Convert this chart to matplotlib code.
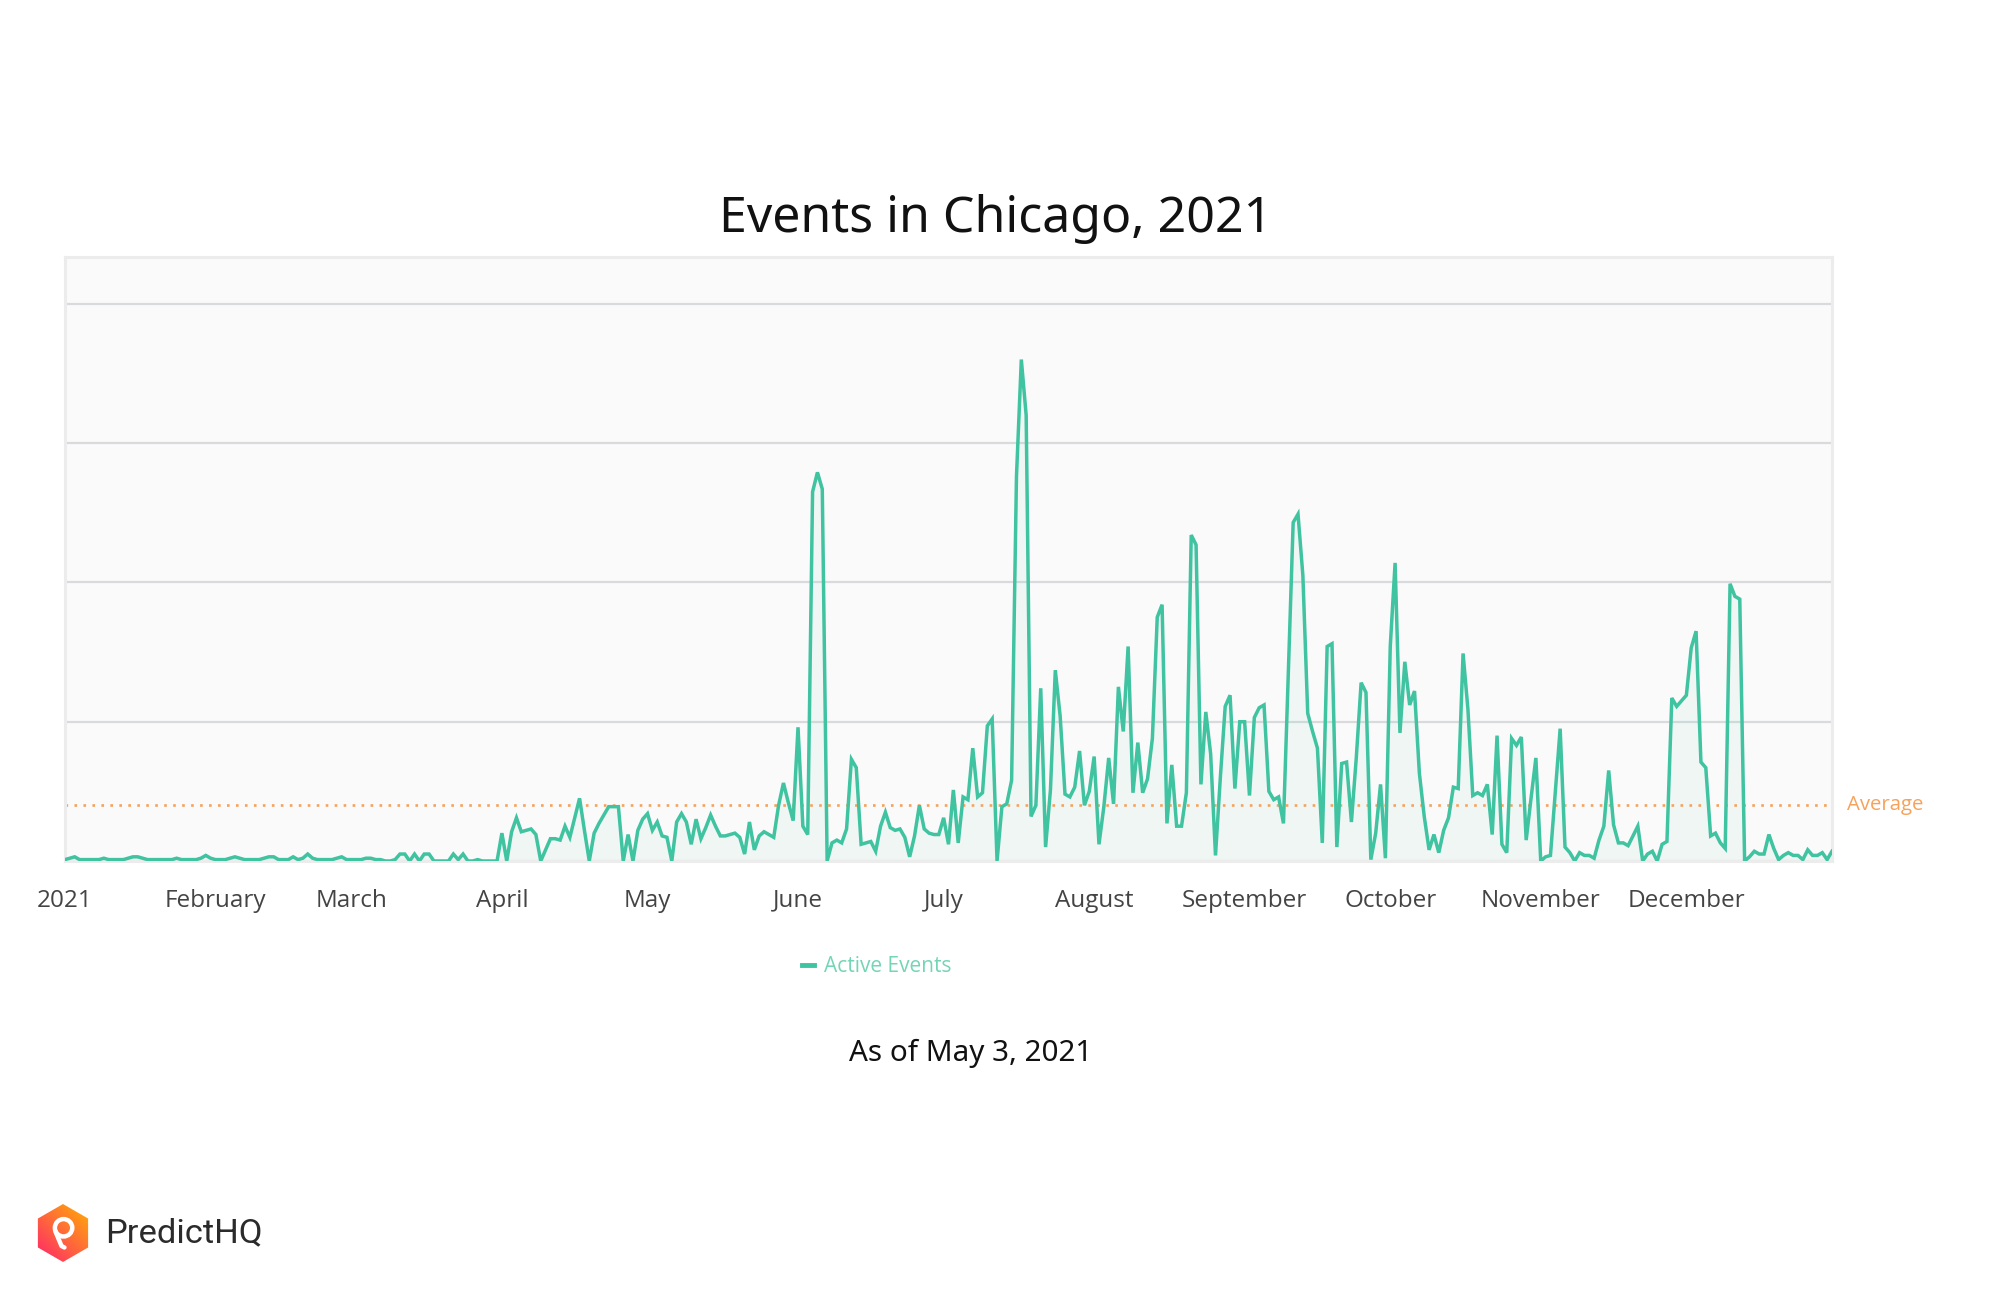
import numpy as np
import pandas as pd
import matplotlib
matplotlib.use("Agg")
import matplotlib.pyplot as plt
from matplotlib.lines import Line2D
from matplotlib.patches import RegularPolygon, Circle

# ---------------- data (daily active events, 2021) ----------------
jan = [1, 2, 3, 1, 1, 1, 1, 1, 2, 1, 1, 1, 1, 2, 3, 3, 2, 1, 1, 1, 1, 1, 1, 2, 1, 1, 1, 1, 2, 4, 2]
feb = [1, 1, 1, 2, 3, 2, 1, 1, 1, 1, 2, 3, 3, 1, 1, 1, 3, 1, 2, 5, 2, 1, 1, 1, 1, 2, 3, 1]
mar = [1, 1, 1, 2, 2, 1, 1, 0, 0, 1, 5, 5, 0, 5, 0, 5, 5, 0, 0, 0, 0, 5, 1, 5, 0, 0, 1, 0, 0, 0, 0]
apr = [20, 0, 21, 31, 21, 22, 23, 19, 0, 8, 16, 16, 15, 25, 17, 31, 45, 22, 0, 20, 27, 33, 39, 39, 39, 0, 19, 0, 22, 30]
may = [34, 22, 28, 18, 17, 0, 28, 34, 28, 12, 30, 16, 24, 33, 25, 18, 18, 19, 20, 17, 5, 28, 8, 18, 21, 19, 17, 40, 56, 42, 29]
jun = [96, 25, 19, 265, 279, 267, 0, 13, 15, 13, 23, 73, 67, 12, 13, 14, 7, 25, 35, 24, 22, 23, 17, 3, 18, 40, 23, 20, 19, 19]
jul = [31, 12, 51, 13, 46, 44, 81, 46, 49, 97, 102, 0, 39, 41, 58, 276, 360, 320, 32, 40, 124, 10, 51, 137, 104, 48, 46, 53, 79, 40, 50]
aug = [75, 12, 39, 74, 41, 125, 93, 154, 49, 85, 49, 59, 88, 175, 184, 27, 69, 25, 25, 49, 234, 227, 55, 107, 77, 4, 60, 111, 119, 52, 100]
sep = [100, 47, 103, 110, 112, 50, 44, 46, 27, 135, 243, 249, 205, 106, 93, 81, 13, 154, 156, 10, 70, 71, 28, 74, 128, 121, 1, 20, 55, 2]
oct_ = [154, 214, 92, 143, 112, 122, 63, 32, 8, 19, 6, 22, 31, 53, 52, 149, 109, 47, 49, 47, 55, 19, 90, 12, 6, 88, 83, 89, 15, 45, 74]
nov = [0, 3, 4, 50, 95, 10, 6, 0, 6, 4, 4, 2, 15, 25, 65, 26, 13, 13, 11, 18, 25, 0, 5, 7, 0, 12, 14, 117, 111, 115]
dec = [119, 153, 165, 71, 67, 18, 20, 13, 9, 199, 190, 188, 0, 3, 7, 5, 5, 19, 9, 1, 4, 6, 4, 4, 1, 8, 4, 4, 6, 1, 7]

active_events = jan + feb + mar + apr + may + jun + jul + aug + sep + oct_ + nov + dec
dates = pd.date_range("2021-01-01", periods=len(active_events), freq="D")
average_value = 40

month_labels = ["2021", "February", "March", "April", "May", "June", "July",
                "August", "September", "October", "November", "December"]
month_starts = pd.date_range("2021-01-01", periods=12, freq="MS")

title_text = "Events in Chicago, 2021"
subtitle_text = "As of May 3, 2021"
legend_label = "Active Events"
brand_text = "PredictHQ"

# ---------------- style ----------------
LINE = "#3fc3a0"
AVG = "#f7a25b"
W, H = 1992, 1300
fig = plt.figure(figsize=(W / 100, H / 100), dpi=100)
fig.patch.set_facecolor("white")

ax = fig.add_axes([65 / W, 1 - 861 / H, (1832 - 65) / W, (861 - 257) / H])
ax.set_facecolor("#fafafa")

y = np.array(active_events, dtype=float)
ax.fill_between(dates, 0, y, color=LINE, alpha=0.06, lw=0, zorder=2)
ax.plot(dates, y, color=LINE, lw=2.5, solid_joinstyle="miter", zorder=3)
ax.axhline(average_value, color=AVG, lw=1.9, ls=(0, (1.0, 2.4)), zorder=2.5)

ax.set_xlim(dates[0], dates[-1])
ax.set_ylim(0, 433.6)
ax.set_yticks([0, 100, 200, 300, 400])
ax.yaxis.grid(True, color="#d9dade", lw=1.6, zorder=1)
ax.set_axisbelow(True)
ax.tick_params(axis="y", left=False, labelleft=False)

ax.set_xticks(month_starts)
ax.set_xticklabels(month_labels, fontfamily="Open Sans", fontsize=17.5, color="#444444")
ax.tick_params(axis="x", length=0, pad=20)

for s in ax.spines.values():
    s.set_color("#ececec")
    s.set_linewidth(2.2)

ax.text(1.0 + 15 / (1832 - 65), average_value, "Average", transform=ax.get_yaxis_transform(),
        color=AVG, fontsize=14.7, fontfamily="Open Sans", va="center", ha="left")

# title and subtitle
fig.text(996 / W, 1 - 219 / H, title_text, ha="center", va="center",
         fontsize=36, fontfamily="Noto Sans", color="#111111")
fig.text(971 / W, 1 - 1053 / H, subtitle_text, ha="center", va="center",
         fontsize=21.3, fontfamily="Noto Sans", color="#111111")

# legend
handle = Line2D([], [], color=LINE, lw=3.5)
leg = fig.legend([handle], [legend_label], loc="center",
                 bbox_to_anchor=(877 / W, 1 - 967 / H), frameon=False,
                 handlelength=0.55, handletextpad=0.5,
                 prop={"family": "Open Sans", "size": 15})
for t in leg.get_texts():
    t.set_color("#73d4b6")

# brand logo
lax = fig.add_axes([34 / W, 1 - 1264 / H, 58 / W, 62 / H])
lax.set_xlim(-1.0, 1.0)
lax.set_ylim(-1.07, 1.07)
lax.set_aspect("equal", adjustable="datalim")
lax.axis("off")
gx, gy = np.meshgrid(np.linspace(0, 1, 200), np.linspace(0, 1, 200))
grad = (gx + gy) / 2.0
cmap = matplotlib.colors.LinearSegmentedColormap.from_list("phq", ["#ff1f6e", "#ff6a3a", "#ffb400"])
hexagon = RegularPolygon((0, 0), 6, radius=1.0, orientation=0, transform=lax.transData,
                         facecolor="none", edgecolor="none")
lax.add_patch(hexagon)
im = lax.imshow(grad, cmap=cmap, extent=[-1, 1, -1, 1], origin="lower", interpolation="bilinear")
im.set_clip_path(hexagon)
lax.add_patch(Circle((0.02, 0.18), 0.3, facecolor="none", edgecolor="white", lw=3.2))
lax.plot([-0.26, -0.05, 0.05], [0.05, -0.45, -0.5], color="white", lw=3.2, solid_capstyle="round")

fig.text(105 / W, 1 - 1233 / H, brand_text, ha="left", va="center",
         fontsize=24.8, fontfamily="Roboto", color="#2b2b2b")

fig.savefig("out.png", dpi=100, facecolor="white")
